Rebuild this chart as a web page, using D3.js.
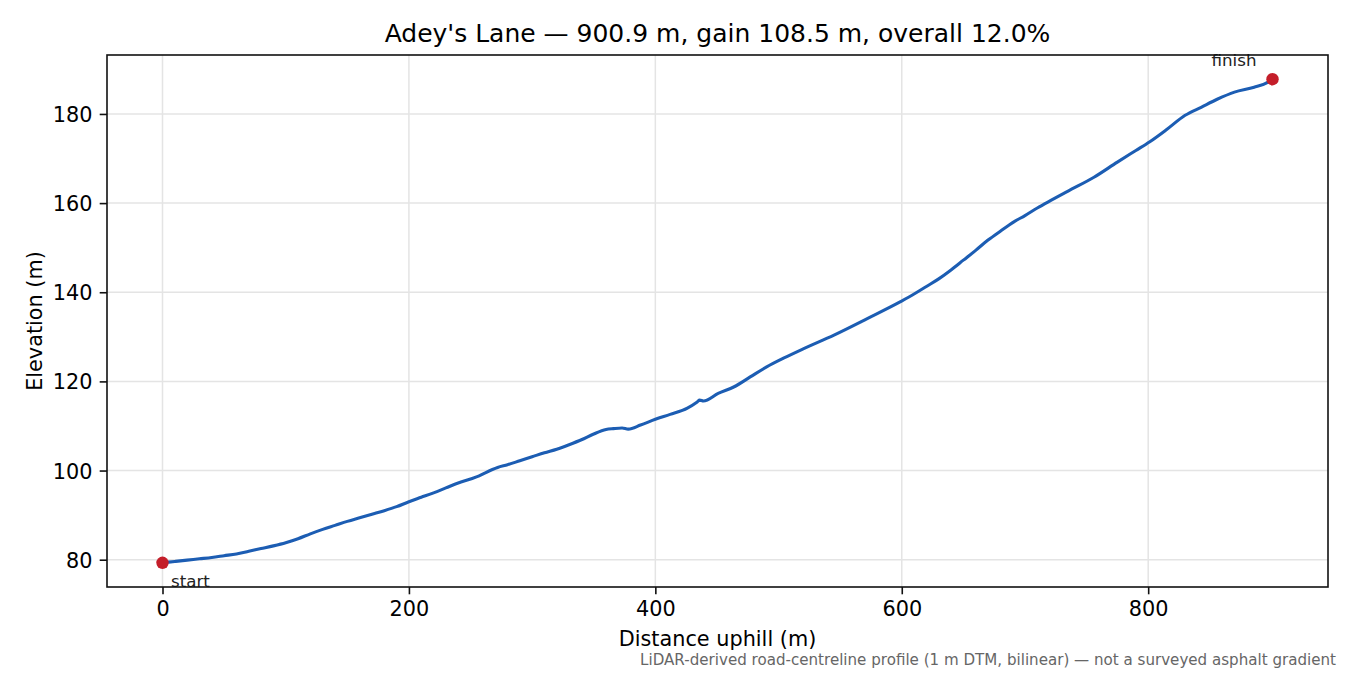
<!DOCTYPE html>
<html>
<head>
<meta charset="utf-8">
<script src="https://cdn.jsdelivr.net/npm/d3@7"></script>
<style>
  html, body { margin: 0; padding: 0; background: #fff; }
  svg { display: block; font-family: "DejaVu Sans", sans-serif; }
</style>
</head>
<body>
<svg id="chart" width="1350" height="675"></svg>
<script>
// ---- data ----
const distance = [0, 10, 20, 30, 40, 50, 60, 70, 80, 90, 100, 110, 120, 130, 140, 150, 160, 170, 180, 190,
  200, 210, 220, 230, 240, 250, 257, 262, 272, 280, 290, 300, 310, 320, 330, 340, 350, 360, 366, 373, 378,
  388, 400, 412, 426, 434, 436, 439, 451, 464, 477, 490, 504, 520, 545, 572, 599, 610, 620, 630, 640, 650,
  660, 670, 680, 691, 700, 710, 721, 735, 756, 775, 790, 801, 815, 830, 843, 856, 870, 886, 897, 900.9];
const elevation = [79.3, 79.6, 79.9, 80.2, 80.5, 80.9, 81.3, 81.9, 82.5, 83.1, 83.8, 84.7, 85.8, 86.8, 87.7, 88.6, 89.4, 90.2, 91.0, 91.9,
  93.0, 94.0, 95.0, 96.1, 97.2, 98.1, 98.8, 99.5, 100.7, 101.3, 102.2, 103.1, 104.0, 104.8, 105.8, 106.9, 108.2, 109.2, 109.4, 109.55, 109.3,
  110.2, 111.5, 112.6, 114.0, 115.4, 115.8, 115.6, 117.3, 118.8, 121.0, 123.2, 125.2, 127.3, 130.4, 134.1, 137.9, 139.6, 141.3, 143.0, 145.0, 147.2,
  149.4, 151.7, 153.7, 155.8, 157.2, 158.9, 160.6, 162.7, 165.8, 169.2, 171.8, 173.7, 176.5, 179.7, 181.5, 183.3, 184.9, 186.0, 187.1, 187.8];
const xTicks = [0, 200, 400, 600, 800];
const yTicks = [80, 100, 120, 140, 160, 180];
const titleText = "Adey's Lane \u2014 900.9 m, gain 108.5 m, overall 12.0%";
const xLabel = "Distance uphill (m)";
const yLabel = "Elevation (m)";
const noteText = "LiDAR-derived road-centreline profile (1 m DTM, bilinear) \u2014 not a surveyed asphalt gradient";
const endLabels = ["start", "finish"];

// ---- layout ----
const svg = d3.select("#chart");
const L = 107, R = 1328, T = 55, B = 587;
const xMin = d3.min(distance), xMax = d3.max(distance);
const yMin = d3.min(elevation), yMax = d3.max(elevation);
const xm = (xMax - xMin) * 0.05, ym = (yMax - yMin) * 0.05;
const x = d3.scaleLinear().domain([xMin - xm, xMax + xm]).range([L, R]);
const y = d3.scaleLinear().domain([yMin - ym, yMax + ym]).range([B, T]);

const tickFont = 20.8;

// grid
const grid = svg.append("g");
grid.selectAll(".gx").data(xTicks).join("line")
  .attr("x1", d => x(d)).attr("x2", d => x(d)).attr("y1", T).attr("y2", B)
  .attr("stroke", "#e4e4e4").attr("stroke-width", 1.5);
grid.selectAll(".gy").data(yTicks).join("line")
  .attr("x1", L).attr("x2", R).attr("y1", d => y(d)).attr("y2", d => y(d))
  .attr("stroke", "#e4e4e4").attr("stroke-width", 1.5);

// line
const pts = distance.map((d, i) => [d, elevation[i]]);
svg.append("path").datum(pts)
  .attr("fill", "none").attr("stroke", "#1c5db3").attr("stroke-width", 3.1)
  .attr("stroke-linejoin", "round").attr("stroke-linecap", "round")
  .attr("d", d3.line().x(d => x(d[0])).y(d => y(d[1])).curve(d3.curveMonotoneX));

// endpoints
const ends = [pts[0], pts[pts.length - 1]];
svg.selectAll(".end").data(ends).join("circle")
  .attr("cx", d => x(d[0])).attr("cy", d => y(d[1])).attr("r", 6.2)
  .attr("fill", "#c41e2a");
svg.append("text").attr("x", x(ends[0][0]) + 8.5).attr("y", y(ends[0][1]) + 24.5)
  .attr("font-size", 16.7).attr("fill", "#222").text(endLabels[0]);
svg.append("text").attr("x", x(ends[1][0]) - 16).attr("y", y(ends[1][1]) - 13)
  .attr("text-anchor", "end").attr("font-size", 16.7).attr("fill", "#222").text(endLabels[1]);

// axes frame
svg.append("rect").attr("x", L).attr("y", T).attr("width", R - L).attr("height", B - T)
  .attr("fill", "none").attr("stroke", "#111").attr("stroke-width", 1.6);

// x axis
const xAxis = d3.axisBottom(x).tickValues(xTicks).tickSize(7.3).tickPadding(7).tickFormat(d3.format("d"));
const gx = svg.append("g").attr("transform", `translate(0,${B})`).call(xAxis);
gx.select(".domain").remove();
gx.selectAll(".tick line").attr("stroke", "#111").attr("stroke-width", 1.6);
gx.selectAll(".tick text").attr("font-size", tickFont).attr("font-family", "DejaVu Sans").attr("fill", "#000").attr("dy", "0.72em");

// y axis
const yAxis = d3.axisLeft(y).tickValues(yTicks).tickSize(7.3).tickPadding(7.3).tickFormat(d3.format("d"));
const gy = svg.append("g").attr("transform", `translate(${L},0)`).call(yAxis);
gy.select(".domain").remove();
gy.selectAll(".tick line").attr("stroke", "#111").attr("stroke-width", 1.6);
gy.selectAll(".tick text").attr("font-size", tickFont).attr("font-family", "DejaVu Sans").attr("fill", "#000").attr("dy", "0.36em");

// title & labels
svg.append("text").attr("x", (L + R) / 2).attr("y", 42).attr("text-anchor", "middle")
  .attr("font-size", 25).attr("fill", "#000").text(titleText);
svg.append("text").attr("x", (L + R) / 2).attr("y", 646).attr("text-anchor", "middle")
  .attr("font-size", 20.8).attr("fill", "#000").text(xLabel);
svg.append("text").attr("transform", `translate(42,${(T + B) / 2}) rotate(-90)`).attr("text-anchor", "middle")
  .attr("font-size", 20.8).attr("fill", "#000").text(yLabel);
svg.append("text").attr("x", 1336).attr("y", 665).attr("text-anchor", "end")
  .attr("font-size", 15.1).attr("fill", "#666").text(noteText);
</script>
</body>
</html>
